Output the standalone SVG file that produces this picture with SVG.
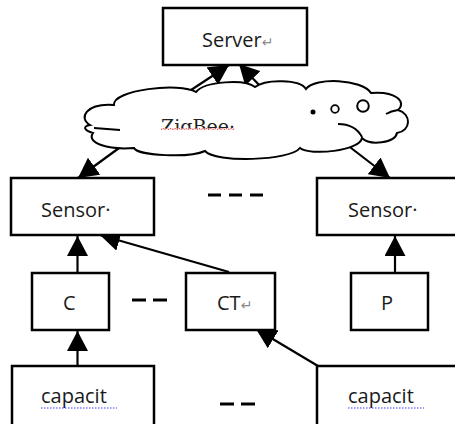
<svg xmlns="http://www.w3.org/2000/svg" width="455" height="424" viewBox="0 0 455 424">
<style>
.box{fill:#fff;stroke:#000;stroke-width:2.5}
.lbl{font-family:"Open Sans","Noto Sans",sans-serif;font-size:20px;fill:#1a1a1a}
.ret{font-family:"DejaVu Sans",sans-serif;font-size:14px;fill:#8a8a8a}
.conn{stroke:#000;stroke-width:2.2;fill:none}
.dash{stroke:#000;stroke-width:3}
</style>
<defs>
<marker id="ah" markerUnits="userSpaceOnUse" markerWidth="21" markerHeight="21" refX="20" refY="10.5" orient="auto" viewBox="0 0 21 21">
<path d="M0,0 L20,10.5 L0,21 z" fill="#000"/>
</marker>
<clipPath id="zc"><rect x="150" y="100" width="100" height="28.5"/></clipPath>
</defs>
<g id="connectors">
<line class="conn" x1="188" y1="92" x2="229" y2="65" marker-end="url(#ah)"/>
<line class="conn" x1="262" y1="88" x2="239" y2="64" marker-end="url(#ah)"/>
<line class="conn" x1="130" y1="140" x2="78" y2="178" marker-end="url(#ah)"/>
<line class="conn" x1="342" y1="141" x2="390" y2="178" marker-end="url(#ah)"/>
<line class="conn" x1="77.5" y1="273" x2="77.5" y2="236" marker-end="url(#ah)"/>
<line class="conn" x1="229" y1="272" x2="100" y2="235" marker-end="url(#ah)"/>
<line class="conn" x1="395" y1="273" x2="395" y2="236" marker-end="url(#ah)"/>
<line class="conn" x1="77.5" y1="366" x2="77.5" y2="331" marker-end="url(#ah)"/>
<line class="conn" x1="318" y1="366" x2="256" y2="329" marker-end="url(#ah)"/>
</g>
<g id="cloud">
<path d="M90,125 C78,118 86,103 114,105 C112,90 180,82 196,92 C205,81 245,79 255,87 C265,79 300,79 306,89 C315,77 362,79 371,93 C396,91 407,102 398,110 C412,114 411,131 397,133 C395,143 370,146 362,138 C360,151 310,156 300,148 C290,161 215,163 205,151 C190,158 138,156 134,148 C108,150 86,143 93,133 C83,130 83,126 90,125 Z" fill="#fff" stroke="#000" stroke-width="2"/>
<path d="M94,128 L120,130 M338,124 Q355,124 362,137 M386,114 Q391,111 398,110" fill="none" stroke="#000" stroke-width="2"/>
<circle cx="313" cy="112" r="2.5" fill="#000"/>
<circle cx="335" cy="109" r="3.8" fill="none" stroke="#000" stroke-width="1.8"/>
<circle cx="363" cy="106" r="5.8" fill="none" stroke="#000" stroke-width="2"/>
<text x="161" y="133" clip-path="url(#zc)" style="font-family:'DejaVu Serif',serif;font-size:19px;fill:#222">ZigBee·</text>
<path d="M161,129.5 l2,-1 l2,1 l2,-1 l2,1 l2,-1 l2,1 l2,-1 l2,1 l2,-1 l2,1 l2,-1 l2,1 l2,-1 l2,1 l2,-1 l2,1 l2,-1 l2,1 l2,-1 l2,1 l2,-1 l2,1 l2,-1 l2,1 l2,-1 l2,1 l2,-1 l2,1 l2,-1 l2,1 l2,-1 l2,1 l2,-1 l2,1 l2,-1 l2,1 l2,-1" fill="none" stroke="#e02020" stroke-width="1" stroke-dasharray="1.5,1"/>
</g>
<g id="server">
<rect class="box" x="163" y="8" width="144" height="57"/>
<text class="lbl" x="202" y="47">Server<tspan class="ret">↵</tspan></text>
</g>
<g id="sensor-left">
<rect class="box" x="11" y="178" width="143" height="57"/>
<text class="lbl" x="41" y="217">Sensor·</text>
</g>
<g id="sensor-right">
<rect class="box" x="317" y="178" width="142" height="57"/>
<text class="lbl" x="348" y="217">Sensor·</text>
</g>
<g id="c">
<rect class="box" x="32" y="273" width="77" height="57"/>
<text class="lbl" x="63" y="310">C</text>
</g>
<g id="ct">
<rect class="box" x="186" y="273" width="89" height="57"/>
<text class="lbl" x="217" y="310">CT<tspan class="ret">↵</tspan></text>
</g>
<g id="p">
<rect class="box" x="351" y="273" width="77" height="57"/>
<text class="lbl" x="381" y="310">P</text>
</g>
<g id="capacit-left">
<rect class="box" x="12" y="366" width="142" height="62"/>
<text class="lbl" x="41" y="403">capacit</text>
<line x1="41" y1="408" x2="117" y2="408" stroke="#3a3aff" stroke-width="1" stroke-dasharray="1.5,1.5"/>
</g>
<g id="capacit-right">
<rect class="box" x="317" y="366" width="142" height="62"/>
<text class="lbl" x="348" y="403">capacit</text>
<line x1="348" y1="408" x2="424" y2="408" stroke="#3a3aff" stroke-width="1" stroke-dasharray="1.5,1.5"/>
</g>
<g id="ellipses">
<line class="dash" x1="208" y1="195" x2="221" y2="195"/>
<line class="dash" x1="229" y1="195" x2="242" y2="195"/>
<line class="dash" x1="250" y1="195" x2="263" y2="195"/>
<line class="dash" x1="132" y1="300" x2="146" y2="300"/>
<line class="dash" x1="153" y1="300" x2="167" y2="300"/>
<line class="dash" x1="220" y1="404" x2="234" y2="404"/>
<line class="dash" x1="241" y1="404" x2="255" y2="404"/>
</g>
</svg>
